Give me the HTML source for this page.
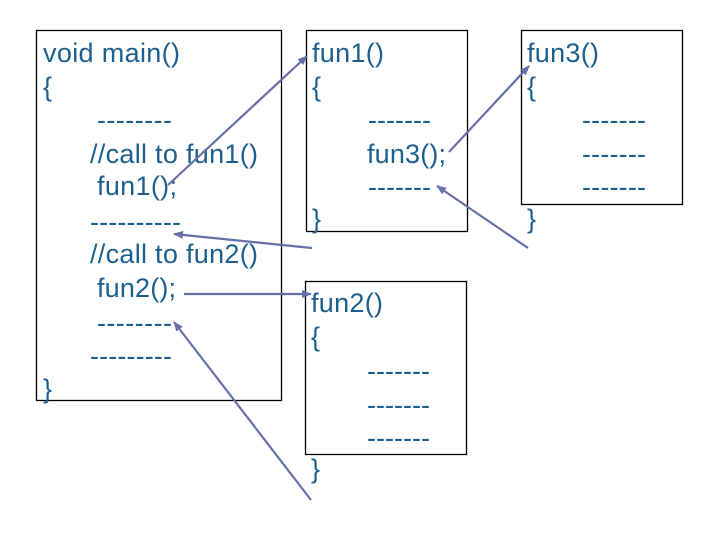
<!DOCTYPE html>
<html><head><style>
html,body{margin:0;padding:0;background:#fff;}
svg{display:block;}
text{font-family:"Liberation Sans",Arial,sans-serif;font-size:27px;fill:#1d5f8e;}
</style></head><body>
<svg width="720" height="540" viewBox="0 0 720 540" xmlns="http://www.w3.org/2000/svg">
<defs>
<marker id="a" markerWidth="10" markerHeight="8" refX="9" refY="4" orient="auto" markerUnits="userSpaceOnUse">
<path d="M0,0 L10,4 L0,8 Z" fill="#6670a8"/>
</marker>
</defs>
<g fill="none" stroke="#000" stroke-width="1.3">
<rect x="36.5" y="30.5" width="245" height="370"/>
<rect x="306.5" y="30.5" width="161" height="201"/>
<rect x="305.5" y="281.5" width="161" height="173"/>
<rect x="521.5" y="30.5" width="161" height="174"/>
</g>
<!-- main -->
<text x="43" y="62" textLength="137">void main()</text>
<text x="43" y="96">{</text>
<text x="97" y="129" textLength="75">--------</text>
<text x="90" y="163" textLength="168">//call to fun1()</text>
<text x="97" y="195" textLength="80">fun1();</text>
<text x="90" y="231" textLength="91">----------</text>
<text x="90" y="263" textLength="168">//call to fun2()</text>
<text x="97" y="297" textLength="79">fun2();</text>
<text x="97" y="332" textLength="75">--------</text>
<text x="90" y="365" textLength="82">---------</text>
<text x="43" y="398">}</text>
<!-- fun1 -->
<text x="312" y="62" textLength="72">fun1()</text>
<text x="312" y="96">{</text>
<text x="368" y="129" textLength="63">-------</text>
<text x="367" y="163" textLength="79">fun3();</text>
<text x="368" y="196" textLength="63">-------</text>
<text x="312" y="228">}</text>
<!-- fun2 -->
<text x="311" y="312" textLength="72">fun2()</text>
<text x="311" y="346">{</text>
<text x="367" y="380" textLength="63">-------</text>
<text x="367" y="414" textLength="63">-------</text>
<text x="367" y="447" textLength="63">-------</text>
<text x="311" y="478">}</text>
<!-- fun3 -->
<text x="527" y="62" textLength="72">fun3()</text>
<text x="527" y="96">{</text>
<text x="582" y="129" textLength="64">-------</text>
<text x="582" y="163" textLength="64">-------</text>
<text x="582" y="196" textLength="64">-------</text>
<text x="527" y="228">}</text>
<!-- arrows -->
<g stroke="#6670a8" stroke-width="2.2" fill="none" marker-end="url(#a)">
<line x1="168" y1="185" x2="307" y2="56"/>
<line x1="312" y1="248" x2="174" y2="234"/>
<line x1="184" y1="294" x2="311" y2="294"/>
<line x1="311" y1="500" x2="174" y2="322"/>
<line x1="449" y1="152" x2="529" y2="66"/>
<line x1="528" y1="248" x2="437" y2="186"/>
</g>
</svg>
</body></html>
